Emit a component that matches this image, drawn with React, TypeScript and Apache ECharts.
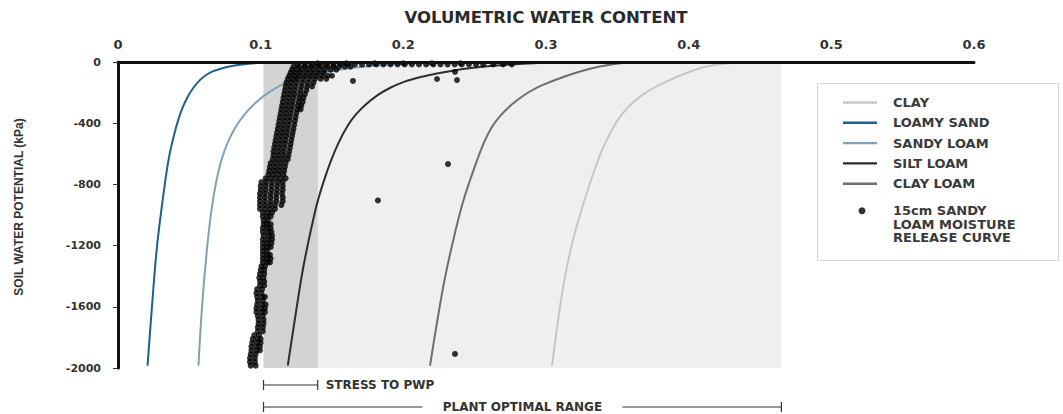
import React, { useEffect, useRef } from "react";
import * as echarts from "echarts";

// Water-retention curves: [volumetric water content, soil water potential (kPa)]
const clay: [number, number][] = [
  [0.3042, -1985], [0.3119, -1477], [0.3186, -1176], [0.3281, -869], [0.3378, -608],
  [0.3431, -500], [0.347, -431], [0.3525, -350], [0.3612, -261], [0.3716, -190],
  [0.3835, -131], [0.3962, -80], [0.4085, -39], [0.418, -20], [0.428, -8], [0.445, 0],
];
const loamySand: [number, number][] = [
  [0.0207, -1985], [0.0238, -1600], [0.0274, -1200], [0.0328, -800], [0.0358, -620],
  [0.0392, -480], [0.0422, -380], [0.0452, -300], [0.0487, -230], [0.0527, -170],
  [0.0572, -120], [0.0618, -85], [0.0668, -60], [0.0725, -42], [0.079, -28], [0.087, -17],
  [0.096, -9], [0.106, -4], [0.12, 0],
];
const sandyLoam: [number, number][] = [
  [0.0564, -1985], [0.0589, -1600], [0.0626, -1200], [0.0655, -970], [0.0685, -800],
  [0.0725, -640], [0.0772, -520], [0.0828, -420], [0.0885, -346], [0.095, -280],
  [0.1025, -220], [0.1105, -170], [0.1195, -130], [0.1295, -100], [0.1405, -75],
  [0.152, -55], [0.165, -38], [0.179, -25], [0.195, -14], [0.212, -6], [0.235, 0],
];
const siltLoam: [number, number][] = [
  [0.119, -1985], [0.1245, -1650], [0.1301, -1330], [0.1383, -970], [0.1435, -800],
  [0.1495, -640], [0.155, -520], [0.1608, -420], [0.1665, -346], [0.1735, -280],
  [0.1815, -220], [0.1905, -170], [0.2005, -130], [0.2115, -100], [0.2235, -75],
  [0.2355, -55], [0.249, -38], [0.2625, -25], [0.278, -14], [0.295, -6], [0.32, 0],
];
const clayLoam: [number, number][] = [
  [0.2187, -1985], [0.2278, -1477], [0.2347, -1176], [0.2418, -915], [0.2512, -654],
  [0.2568, -520], [0.2617, -431], [0.2663, -370], [0.2722, -310], [0.2797, -250],
  [0.2881, -196], [0.2978, -150], [0.3121, -98], [0.3227, -65], [0.3361, -33],
  [0.3469, -15], [0.3541, -7], [0.365, -2], [0.375, 0],
];

// 15 cm sandy loam samples, one row per potential: [kPa, water content readings...]
const sampleRows: number[][] = [
  [-1985, 0.093, 0.0965],
  [-1960, 0.0925, 0.096],
  [-1935, 0.0925, 0.096],
  [-1910, 0.093, 0.0965],
  [-1885, 0.0935, 0.097, 0.0995],
  [-1860, 0.0935, 0.097, 0.0995],
  [-1835, 0.094, 0.0975, 0.1],
  [-1810, 0.0945, 0.098, 0.1],
  [-1785, 0.0955, 0.099],
  [-1760, 0.098, 0.1015],
  [-1735, 0.098, 0.1015],
  [-1710, 0.0985, 0.102],
  [-1685, 0.0985, 0.102],
  [-1660, 0.098, 0.1015],
  [-1635, 0.097, 0.1005, 0.103],
  [-1610, 0.097, 0.1005, 0.103],
  [-1585, 0.0975, 0.101, 0.1035],
  [-1560, 0.098, 0.1015],
  [-1535, 0.0975, 0.101, 0.103],
  [-1510, 0.097, 0.1005],
  [-1485, 0.0975, 0.101],
  [-1460, 0.0995, 0.1025],
  [-1435, 0.0995, 0.1025],
  [-1410, 0.099, 0.102],
  [-1385, 0.0995, 0.1025],
  [-1360, 0.1, 0.1025],
  [-1335, 0.1005, 0.103],
  [-1310, 0.1015, 0.1045, 0.1065],
  [-1285, 0.1015, 0.1045, 0.107],
  [-1260, 0.1015, 0.1045, 0.1065],
  [-1235, 0.1015, 0.1045],
  [-1210, 0.1015, 0.1045, 0.107],
  [-1185, 0.1015, 0.1045, 0.1075],
  [-1160, 0.1015, 0.105, 0.108],
  [-1135, 0.102, 0.1055, 0.108],
  [-1110, 0.1015, 0.105, 0.1075],
  [-1085, 0.1015, 0.1045, 0.107],
  [-1060, 0.102, 0.1045, 0.107],
  [-1035, 0.102, 0.105],
  [-1010, 0.1015, 0.1045, 0.107],
  [-985, 0.1015, 0.105, 0.108],
  [-960, 0.0995, 0.103, 0.1065, 0.11],
  [-935, 0.0995, 0.103, 0.1065, 0.11, 0.1145],
  [-910, 0.0995, 0.103, 0.107, 0.111, 0.1155],
  [-885, 0.0995, 0.103, 0.107, 0.111, 0.1155],
  [-860, 0.0995, 0.103, 0.107, 0.111, 0.115],
  [-835, 0.1, 0.1035, 0.1075, 0.1115, 0.1155],
  [-810, 0.1, 0.1035, 0.1075, 0.1115, 0.1155],
  [-785, 0.1005, 0.104, 0.108, 0.112, 0.1155],
  [-760, 0.1035, 0.107, 0.1105, 0.114, 0.1175],
  [-735, 0.1055, 0.109, 0.1125, 0.116],
  [-710, 0.106, 0.1095, 0.113, 0.1165],
  [-685, 0.1065, 0.11, 0.1135, 0.117],
  [-660, 0.107, 0.1105, 0.114, 0.1175],
  [-635, 0.1085, 0.112, 0.1155, 0.119],
  [-610, 0.109, 0.1125, 0.116, 0.1195],
  [-585, 0.109, 0.1125, 0.116, 0.12],
  [-560, 0.1095, 0.113, 0.1165, 0.1205],
  [-535, 0.11, 0.1135, 0.117, 0.121],
  [-510, 0.1105, 0.114, 0.1175, 0.1215],
  [-485, 0.111, 0.1145, 0.118, 0.122],
  [-460, 0.1115, 0.115, 0.1185, 0.1225],
  [-435, 0.112, 0.1155, 0.119, 0.123],
  [-410, 0.1125, 0.116, 0.1195, 0.1235],
  [-385, 0.113, 0.1165, 0.12, 0.124],
  [-360, 0.1135, 0.117, 0.1205, 0.1245],
  [-335, 0.114, 0.1175, 0.121, 0.125],
  [-310, 0.1145, 0.118, 0.1215, 0.1255, 0.128],
  [-285, 0.115, 0.1185, 0.122, 0.126, 0.1285],
  [-260, 0.1155, 0.119, 0.1225, 0.1265, 0.1295],
  [-235, 0.116, 0.1195, 0.123, 0.127, 0.13],
  [-210, 0.1165, 0.12, 0.1235, 0.1275, 0.131],
  [-185, 0.117, 0.1205, 0.124, 0.128, 0.132],
  [-160, 0.1175, 0.121, 0.1245, 0.1285, 0.1325, 0.136],
  [-135, 0.118, 0.1215, 0.125, 0.129, 0.133, 0.137],
  [-110, 0.119, 0.1225, 0.126, 0.13, 0.134, 0.138, 0.142, 0.146],
  [-90, 0.12, 0.1235, 0.127, 0.131, 0.135, 0.139, 0.143, 0.147, 0.15],
  [-70, 0.121, 0.1245, 0.128, 0.132, 0.136, 0.14, 0.144],
  [-50, 0.122, 0.1255, 0.129, 0.133, 0.137, 0.141, 0.145, 0.149, 0.153],
  [-30, 0.123, 0.127, 0.131, 0.135, 0.139, 0.143, 0.147, 0.151, 0.155, 0.159, 0.163],
  [-16, 0.126, 0.131, 0.136, 0.141, 0.146, 0.151, 0.156, 0.161, 0.166, 0.171, 0.176, 0.181,
    0.186, 0.191, 0.196, 0.201, 0.206, 0.211, 0.216, 0.221, 0.226, 0.231, 0.236, 0.241, 0.246,
    0.251, 0.256, 0.263, 0.27, 0.276],
  [-8, 0.14, 0.16, 0.18, 0.2, 0.22, 0.24],
];
// isolated readings away from the main band
const sampleOutliers: [number, number][] = [
  [0.1647, -124], [0.2236, -111], [0.2376, -118], [0.2362, -65],
  [0.1822, -905], [0.2313, -667], [0.2362, -1908],
];

// ranges of water content (m³/m³)
const stressRange = [0.102, 0.14];
const optimalRange = [0.102, 0.465];

const potentialMin = -2000;
const potentialMax = 0;
const potentialStep = 400;
const waterMin = 0;
const waterMax = 0.6;
const waterStep = 0.1;

const curveNames = ["CLAY", "LOAMY SAND", "SANDY LOAM", "SILT LOAM", "CLAY LOAM"];
const sampleName = "15cm SANDY LOAM MOISTURE RELEASE CURVE";
const sampleLines = ["15cm SANDY", "LOAM MOISTURE", "RELEASE CURVE"];
const FONT = "'DejaVu Sans', sans-serif";
const LINE_ICON = "path://M0,0H34V2.4H0Z";

export default function App() {
  const ref = useRef<HTMLDivElement>(null);

  useEffect(() => {
    if (!ref.current) return;
    const chart = echarts.init(ref.current, undefined, { renderer: "svg" });

    const samples: [number, number][] = [];
    sampleRows.forEach((row) => {
      const kpa = row[0];
      row.slice(1).forEach((x) => samples.push([x, kpa]));
    });
    sampleOutliers.forEach((p) => samples.push(p));

    const curve = (name: string, data: [number, number][], color: string) => ({
      name,
      type: "line",
      data,
      symbol: "none",
      smooth: 0.35,
      lineStyle: { color, width: 2 },
      itemStyle: { color },
      z: 2,
    });

    const legendText = {
      fontFamily: FONT,
      fontWeight: "bold",
      fontSize: 13,
      color: "#3a3a3a",
    };

    // two leading blank lines keep the marker level with the first text line
    const sampleLabel = "\n\n" + sampleLines.map((l) => `{t|${l}}`).join("\n");

    chart.setOption({
      animation: false,
      grid: { left: 118, top: 62, right: 89, bottom: 46, containLabel: false },
      xAxis: {
        type: "value",
        position: "top",
        min: waterMin,
        max: waterMax,
        interval: waterStep,
        z: 5,
        name: "VOLUMETRIC WATER CONTENT",
        nameLocation: "middle",
        nameGap: 36,
        nameTextStyle: { fontFamily: FONT, fontWeight: "bold", fontSize: 16.5, color: "#2a2a2a" },
        axisLine: { show: true, lineStyle: { color: "#111", width: 3 } },
        axisTick: { show: false },
        splitLine: { show: false },
        axisLabel: {
          margin: 11,
          fontFamily: FONT,
          fontWeight: "bold",
          fontSize: 13,
          color: "#333",
        },
      },
      yAxis: {
        type: "value",
        min: potentialMin,
        max: potentialMax,
        interval: potentialStep,
        z: 5,
        name: "SOIL WATER POTENTIAL (kPa)",
        nameLocation: "middle",
        nameGap: 93,
        nameTextStyle: {
          fontFamily: "'Liberation Sans', sans-serif",
          fontWeight: "bold",
          fontSize: 12,
          color: "#333",
          padding: [0, 0, 0, 16],
        },
        axisLine: { show: true, lineStyle: { color: "#111", width: 3 } },
        axisTick: { show: true, length: 5, lineStyle: { color: "#333", width: 1 } },
        splitLine: { show: false },
        axisLabel: {
          margin: 17,
          formatter: (v: number) => String(v),
          fontFamily: FONT,
          fontWeight: "bold",
          fontSize: 11,
          color: "#333",
        },
      },
      legend: [
        {
          orient: "vertical",
          left: 843,
          top: 96,
          padding: 0,
          itemGap: 7.3,
          itemWidth: 34,
          itemHeight: 7,
          selectedMode: false,
          z: 6,
          textStyle: { ...legendText, padding: [0, 0, 0, 11] },
          data: curveNames.map((name) => ({ name, icon: LINE_ICON })),
        },
        {
          orient: "vertical",
          // the circle marker is the leftmost drawn part of this item
          left: 858.5,
          top: 177,
          padding: 0,
          itemWidth: 34,
          itemHeight: 7,
          selectedMode: false,
          z: 6,
          textStyle: {
            ...legendText,
            lineHeight: 13.5,
            rich: { t: { ...legendText, lineHeight: 13.5, padding: [0, 0, 0, 9] } },
          },
          formatter: () => sampleLabel,
          data: [{ name: sampleName, icon: "circle" }],
        },
      ],
      graphic: [
        {
          type: "rect",
          left: 817,
          top: 83,
          z: 0,
          shape: { width: 241, height: 177 },
          style: { fill: "#fff", stroke: "#d4d4d4", lineWidth: 1 },
        },
      ],
      series: [
        {
          ...curve(curveNames[0], clay, "#c6c6c6"),
          markArea: {
            silent: true,
            z: 1,
            data: [
              [
                { xAxis: optimalRange[0], yAxis: potentialMax, itemStyle: { color: "#efefef" } },
                { xAxis: optimalRange[1], yAxis: potentialMin },
              ],
              [
                { xAxis: stressRange[0], yAxis: potentialMax, itemStyle: { color: "#d3d3d3" } },
                { xAxis: stressRange[1], yAxis: potentialMin },
              ],
            ],
          },
        },
        curve(curveNames[1], loamySand, "#1f5f8e"),
        curve(curveNames[2], sandyLoam, "#7fa2b8"),
        curve(curveNames[3], siltLoam, "#2e2e2e"),
        curve(curveNames[4], clayLoam, "#6e6e6e"),
        {
          name: sampleName,
          type: "scatter",
          data: samples,
          symbol: "circle",
          symbolSize: 6,
          itemStyle: { color: "#000" },
          z: 3,
        },
        {
          name: "ranges",
          type: "custom",
          coordinateSystem: "cartesian2d",
          silent: true,
          clip: false,
          data: [[stressRange[0], potentialMin]],
          renderItem: (_params: any, api: any) => {
            const s0 = api.coord([stressRange[0], potentialMin]);
            const s1 = api.coord([stressRange[1], potentialMin]);
            const o0 = api.coord([optimalRange[0], potentialMin]);
            const o1 = api.coord([optimalRange[1], potentialMin]);
            const y1 = s0[1] + 17;
            const y2 = s0[1] + 39;
            const mid = (o0[0] + o1[0]) / 2;
            const ls = { stroke: "#333", lineWidth: 1.2 };
            const tick = (x: number, y: number) => ({
              type: "line",
              shape: { x1: x, y1: y - 5, x2: x, y2: y + 5 },
              style: ls,
            });
            const textStyle = {
              fill: "#333",
              fontFamily: FONT,
              fontWeight: "bold",
              fontSize: 12,
              verticalAlign: "middle",
            };
            return {
              type: "group",
              children: [
                tick(s0[0], y1),
                tick(s1[0], y1),
                { type: "line", shape: { x1: s0[0], y1: y1, x2: s1[0], y2: y1 }, style: ls },
                {
                  type: "text",
                  style: { ...textStyle, text: "STRESS TO PWP", x: s1[0] + 8, y: y1, align: "left" },
                },
                tick(o0[0], y2),
                tick(o1[0], y2),
                { type: "line", shape: { x1: o0[0], y1: y2, x2: mid - 100, y2: y2 }, style: ls },
                { type: "line", shape: { x1: mid + 100, y1: y2, x2: o1[0], y2: y2 }, style: ls },
                {
                  type: "text",
                  style: { ...textStyle, text: "PLANT OPTIMAL RANGE", x: mid, y: y2, align: "center" },
                },
              ],
            };
          },
        },
      ],
    });

    return () => chart.dispose();
  }, []);

  return <div ref={ref} style={{ width: 1063, height: 414, position: "absolute", left: 0, top: 0 }} />;
}
